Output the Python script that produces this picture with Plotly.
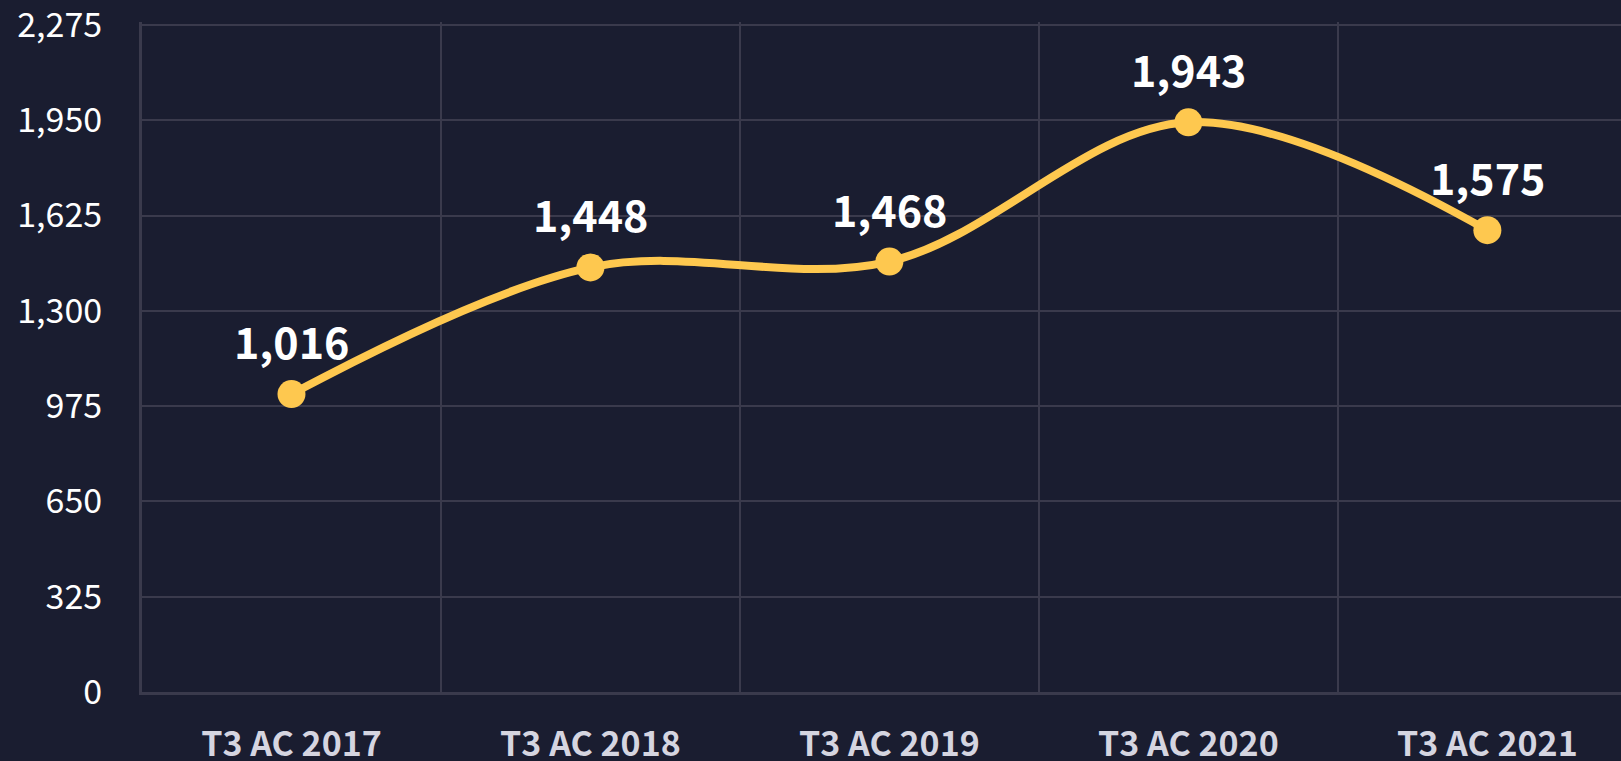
import plotly.graph_objects as go

categories = ["T3 AC 2017", "T3 AC 2018", "T3 AC 2019", "T3 AC 2020", "T3 AC 2021"]
values = [1016, 1448, 1468, 1943, 1575]
labels = ["1,016", "1,448", "1,468", "1,943", "1,575"]
y_max = 2275
y_step = 325

FONT = "Noto Sans CJK SC"
BG = "#1a1d30"
YEL = "#fec84f"
GRID = "#3a3a4c"

fig = go.Figure()
fig.add_trace(go.Scatter(
    x=categories, y=values, mode="lines+markers",
    line=dict(color=YEL, width=8, shape="spline", smoothing=1),
    marker=dict(color=YEL, size=28),
    cliponaxis=False, hoverinfo="skip",
))
for c, v, t in zip(categories, values, labels):
    fig.add_annotation(
        x=c, y=v, text=t, showarrow=False, yanchor="middle", yshift=54,
        font=dict(family=FONT, size=43, color="#ffffff", weight="bold"),
    )

fig.update_layout(
    width=1621, height=761,
    paper_bgcolor=BG, plot_bgcolor=BG,
    margin=dict(l=142, r=0, t=22, b=69),
    showlegend=False,
    font=dict(family=FONT),
)
fig.update_xaxes(
    type="category", range=[-0.5, 4.447], tickson="boundaries", showgrid=True, gridcolor=GRID, gridwidth=2,
    showline=True, linecolor=GRID, linewidth=3, ticks="", ticklabelstandoff=20,
    tickfont=dict(family=FONT, size=34, color="#d5d5e0", weight="bold"),
    zeroline=False, automargin=False,
)
fig.update_yaxes(
    range=[0, y_max + 10], tickmode="linear", tick0=0, dtick=y_step, tickformat=",d",
    showgrid=True, gridcolor=GRID, gridwidth=2, ticklabeloverflow="allow",
    showline=True, linecolor=GRID, linewidth=3, ticks="", ticklabelstandoff=30,
    tickfont=dict(family=FONT, size=34, color="#ffffff"),
    zeroline=False, automargin=False,
)

fig.write_html("out.html", config={"displayModeBar": False},
               post_script="document.body.style.margin='0';document.body.style.overflow='hidden';")
